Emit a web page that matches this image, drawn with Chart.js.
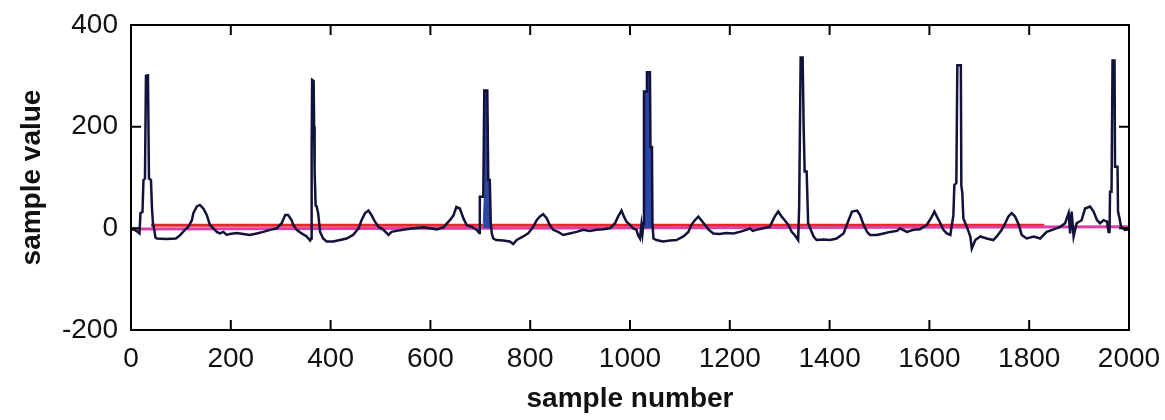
<!DOCTYPE html>
<html>
<head>
<meta charset="utf-8">
<script src="https://cdn.jsdelivr.net/npm/chart.js@4/dist/chart.umd.min.js"></script>
<style>
  html, body { margin: 0; padding: 0; background: #fff; }
</style>
</head>
<body>
<canvas id="grafico" width="1165" height="420"></canvas>
<script>
// Señal ECG: número de muestra y valor de los vértices del trazo
const muestras = [
    0, 6, 12, 17, 19, 23, 25, 28, 30, 34, 36, 40, 42, 44, 47, 49, 52, 70, 90, 98,
    108, 115, 122, 125, 132, 138, 145, 152, 158, 165, 172, 178, 185, 192, 198, 212, 225, 238, 252, 265,
    279, 292, 302, 309, 315, 322, 325, 332, 342, 352, 359, 361, 362, 363, 366, 367, 368, 370, 372, 375,
    379, 385, 392, 405, 419, 432, 445, 456, 462, 469, 476, 482, 489, 496, 506, 516, 522, 532, 552, 566,
    586, 599, 613, 626, 639, 646, 652, 659, 666, 673, 683, 693, 698, 699, 706, 708, 714, 716, 719, 721,
    723, 726, 732, 746, 759, 766, 773, 786, 796, 806, 813, 819, 826, 833, 839, 846, 856, 866, 879, 893,
    906, 919, 933, 946, 960, 970, 976, 983, 988, 993, 1000, 1006, 1013, 1016, 1020, 1023, 1025, 1027, 1028, 1033,
    1034, 1040, 1041, 1044, 1045, 1047, 1053, 1066, 1080, 1093, 1107, 1117, 1123, 1130, 1137, 1143, 1150, 1157, 1167, 1180,
    1193, 1207, 1220, 1233, 1240, 1246, 1253, 1267, 1280, 1290, 1297, 1304, 1310, 1317, 1324, 1330, 1337, 1339, 1342, 1346,
    1348, 1350, 1354, 1357, 1361, 1368, 1374, 1388, 1401, 1414, 1428, 1438, 1445, 1455, 1461, 1468, 1475, 1481, 1495, 1508,
    1521, 1535, 1541, 1555, 1568, 1581, 1595, 1605, 1610, 1615, 1622, 1628, 1635, 1642, 1645, 1648, 1650, 1654, 1656, 1663,
    1664, 1666, 1668, 1672, 1678, 1682, 1685, 1692, 1702, 1715, 1728, 1735, 1745, 1752, 1758, 1765, 1772, 1779, 1785, 1795,
    1809, 1822, 1835, 1849, 1862, 1872, 1879, 1882, 1885, 1889, 1895, 1905, 1912, 1922, 1929, 1936, 1942, 1949, 1956, 1959,
    1961, 1962, 1965, 1967, 1971, 1972, 1977, 1978, 1981, 1984, 1992, 2000
];
const valores = [
    -3, -2, -6, -10, 30, 32, 95, 98, 300, 301, 98, 95, 40, 10, -5, -18, -20, -21, -20, -14,
    -3, 3, 16, 30, 43, 46, 39, 26, 7, 0, -7, -10, -7, -13, -11, -9, -11, -13, -10, -7,
    -3, 0, 10, 26, 26, 16, 7, -3, -10, -16, -24, -20, 150, 292, 290, 200, 110, 45, 43, 30,
    -7, -20, -26, -26, -23, -20, -13, 0, 16, 30, 35, 26, 13, 3, -3, -13, -7, -5, -2, 0,
    2, 0, -2, 2, 16, 25, 42, 39, 20, 6, 3, -3, -9, 62, 62, 271, 271, 95, 95, 10,
    -10, -20, -23, -24, -26, -31, -23, -16, -10, 3, 16, 23, 28, 20, 7, -3, -7, -13, -10, -7,
    -3, -5, -3, -2, 0, 10, 23, 35, 23, 13, 7, 0, -3, -13, -20, 7, -10, 10, 269, 269,
    307, 307, 160, 160, 10, -20, -23, -26, -24, -23, -16, -7, 7, 16, 23, 16, 7, -2, -10, -11,
    -9, -10, -7, -3, 0, -5, -3, 0, 3, 23, 33, 23, 16, 7, -7, -13, -23, 42, 336, 336,
    200, 112, 112, 10, 0, -16, -23, -22, -23, -20, -10, 16, 33, 35, 26, 7, -7, -13, -13, -10,
    -7, -5, 0, -7, -3, -2, 7, 23, 33, 23, 10, -3, -10, -13, 7, 25, 85, 89, 321, 321,
    85, 69, 20, 10, -5, -16, -40, -23, -16, -20, -23, -16, -3, 10, 23, 30, 23, 7, -13, -20,
    -16, -20, -7, -2, 3, 10, 30, -10, 33, -16, 10, 16, 39, 43, 33, 16, 10, 16, 13, -7,
    -7, 72, 72, 330, 330, 121, 121, 33, 20, 3, -3, -2
];

// Columnas rellenas de los complejos QRS muy densos
const relleno1Muestras = [706, 708, 709, 714, 716, 719, 720];
const relleno1Valores = [10, 62, 271, 271, 95, 95, 10];
const relleno2Muestras = [1027, 1028, 1033, 1034, 1040, 1041, 1044, 1045];
const relleno2Valores = [10, 269, 269, 307, 307, 160, 160, 10];

// Líneas de referencia
const rojaMuestras = [40, 1830];
const rojaValores = [6, 6];
const magentaMuestras = [0, 2000];
const magentaValores = [-1.5, 3];

// Ticks de los ejes
const ticksX = [0, 200, 400, 600, 800, 1000, 1200, 1400, 1600, 1800, 2000];
const ticksY = [-200, 0, 200, 400];

function puntos(xs, ys) {
    return xs.map((x, i) => ({ x: x, y: ys[i] }));
}

// Marco del gráfico con las marcas hacia adentro en los cuatro lados
const marcoEjes = {
    id: 'marcoEjes',
    afterDatasetsDraw(chart) {
        const { ctx, chartArea: a, scales } = chart;
        const largo = 10;
        ctx.save();
        ctx.strokeStyle = '#000';
        ctx.lineWidth = 2;
        ctx.strokeRect(a.left, a.top, a.right - a.left, a.bottom - a.top);
        ctx.beginPath();
        scales.x.ticks.forEach(t => {
            const px = scales.x.getPixelForValue(t.value);
            ctx.moveTo(px, a.bottom); ctx.lineTo(px, a.bottom - largo);
            ctx.moveTo(px, a.top); ctx.lineTo(px, a.top + largo);
        });
        scales.y.ticks.forEach(t => {
            const py = scales.y.getPixelForValue(t.value);
            ctx.moveTo(a.left, py); ctx.lineTo(a.left + largo, py);
            ctx.moveTo(a.right, py); ctx.lineTo(a.right - largo, py);
        });
        ctx.stroke();
        ctx.restore();
    }
};

const fuenteTicks = { family: "'Liberation Sans', Arial, sans-serif", size: 28 };
const fuenteTitulo = { family: "'Liberation Sans', Arial, sans-serif", size: 28, weight: 'bold' };

new Chart(document.getElementById('grafico'), {
    type: 'line',
    data: {
        datasets: [
            {
                data: puntos(muestras, valores),
                borderColor: '#12123a',
                borderWidth: 2.5,
                pointRadius: 0,
                tension: 0,
                fill: false
            },
            {
                data: puntos(relleno1Muestras, relleno1Valores),
                borderColor: '#2a46a6',
                borderWidth: 1,
                backgroundColor: '#2a46a6',
                pointRadius: 0,
                fill: 'origin'
            },
            {
                data: puntos(relleno2Muestras, relleno2Valores),
                borderColor: '#2a46a6',
                borderWidth: 1,
                backgroundColor: '#2a46a6',
                pointRadius: 0,
                fill: 'origin'
            },
            {
                data: puntos(magentaMuestras, magentaValores),
                borderColor: '#dc3fa6',
                borderWidth: 3,
                pointRadius: 0,
                fill: false
            },
            {
                data: puntos(rojaMuestras, rojaValores),
                borderColor: '#e8262a',
                borderWidth: 3,
                pointRadius: 0,
                fill: false
            }
        ]
    },
    options: {
        responsive: false,
        animation: false,
        devicePixelRatio: 1,
        layout: { padding: { left: 0, top: 25, right: 36, bottom: 0 } },
        plugins: { legend: { display: false }, tooltip: { enabled: false } },
        scales: {
            x: {
                type: 'linear',
                min: 0,
                max: 2000,
                afterBuildTicks: scale => { scale.ticks = ticksX.map(v => ({ value: v })); },
                afterFit: scale => {
                    scale.height = 90;
                    scale.paddingLeft = 0;
                    scale.paddingRight = 0;
                },
                grid: { display: false, drawTicks: false },
                border: { display: false },
                ticks: { color: '#111', font: fuenteTicks, padding: 12, maxRotation: 0, callback: v => String(v) },
                title: { display: true, text: 'sample number', color: '#111', font: fuenteTitulo, padding: { top: 0, bottom: 4 } }
            },
            y: {
                min: -200,
                max: 400,
                afterBuildTicks: scale => { scale.ticks = ticksY.map(v => ({ value: v })); },
                afterFit: scale => {
                    scale.width = 131;
                    scale.paddingTop = 0;
                    scale.paddingBottom = 0;
                },
                grid: { display: false, drawTicks: false },
                border: { display: false },
                ticks: { color: '#111', font: fuenteTicks, padding: 13, callback: v => String(v) },
                title: { display: true, text: 'sample value', color: '#111', font: fuenteTitulo, padding: { top: 15, bottom: 0 } }
            }
        }
    },
    plugins: [marcoEjes]
});
</script>
</body>
</html>
